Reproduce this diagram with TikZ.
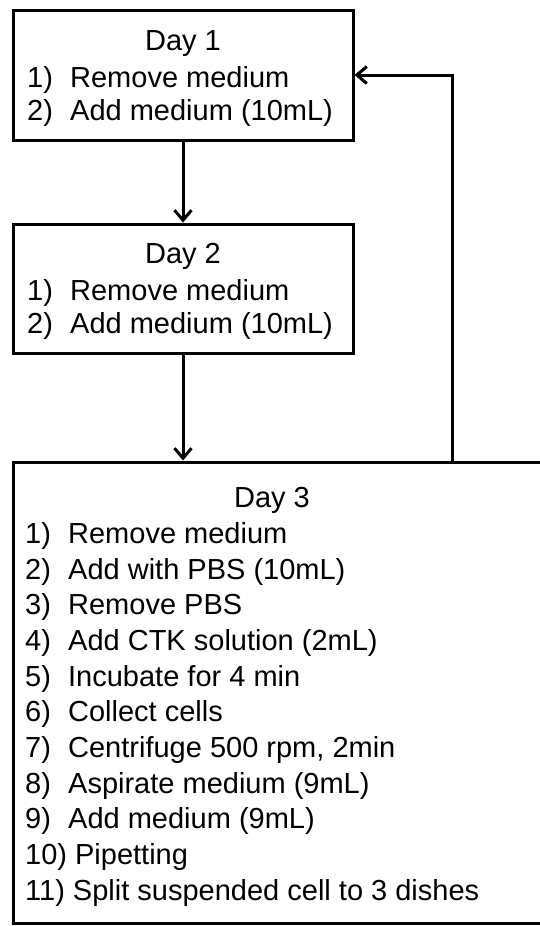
\documentclass[tikz,border=0pt]{standalone}
\usepackage{fontspec}
\setmainfont{Liberation Sans}
\usetikzlibrary{arrows.meta}
\begin{document}
\begin{tikzpicture}[x = 1pt, y = -1pt,
        box/.style = {draw, line width = 3pt, inner sep = 0pt},
        title/.style = {inner sep = 0pt, anchor = base, font = \fontsize{29}{30}\selectfont},
        item/.style = {inner sep = 0pt, anchor = base west, font = \fontsize{29}{30}\selectfont},
        flow/.style = {line width = 3pt, -{Straight Barb[length = 10pt, width = 17pt, line width = 3pt]}}]
        \useasboundingbox (0,0) rectangle (540,926);
        \begin{scope}[name prefix = day1-]
            \node[box, minimum width = 340pt, minimum height = 130pt] (box) at (183,75) {};
            \node[title] (head) at (183,50) {Day 1};
            \node[item] (s1) at (27,87) {\makebox[43pt][l]{1)}Remove medium};
            \node[item] (s2) at (27,120) {\makebox[43pt][l]{2)}Add medium (10mL)};
        \end{scope}
        \begin{scope}[name prefix = day2-]
            \node[box, minimum width = 340pt, minimum height = 129pt] (box) at (183,288.5) {};
            \node[title] (head) at (183,263) {Day 2};
            \node[item] (s1) at (27,300) {\makebox[43pt][l]{1)}Remove medium};
            \node[item] (s2) at (27,333) {\makebox[43pt][l]{2)}Add medium (10mL)};
        \end{scope}
        \begin{scope}[name prefix = day3-]
            \node[box, minimum width = 535pt, minimum height = 461pt] (box) at (280.5,692.5) {};
            \node[title] (head) at (272,507) {Day 3};
            \node[item] (s1) at (25,543) {\makebox[43pt][l]{1)}Remove medium};
            \node[item] (s2) at (25,579) {\makebox[43pt][l]{2)}Add with PBS (10mL)};
            \node[item] (s3) at (25,614) {\makebox[43pt][l]{3)}Remove PBS};
            \node[item] (s4) at (25,650) {\makebox[43pt][l]{4)}Add CTK solution (2mL)};
            \node[item] (s5) at (25,686) {\makebox[43pt][l]{5)}Incubate for 4 min};
            \node[item] (s6) at (25,721) {\makebox[43pt][l]{6)}Collect cells};
            \node[item] (s7) at (25,757) {\makebox[43pt][l]{7)}Centrifuge 500 rpm, 2min};
            \node[item] (s8) at (25,793) {\makebox[43pt][l]{8)}Aspirate medium (9mL)};
            \node[item] (s9) at (25,828) {\makebox[43pt][l]{9)}Add medium (9mL)};
            \node[item] (s10) at (25,864) {10) Pipetting};
            \node[item] (s11) at (25,900) {11) Split suspended cell to 3 dishes};
        \end{scope}
        \coordinate (back) at (452,0);
        \draw[flow] (day1-box) -- (day2-box);
        \draw[flow] (day2-box.south) -- (day2-box.south |- day3-box.north);
        \draw[flow] (day3-box.north -| back) |- (day1-box.east);
    \end{tikzpicture}
\end{document}
